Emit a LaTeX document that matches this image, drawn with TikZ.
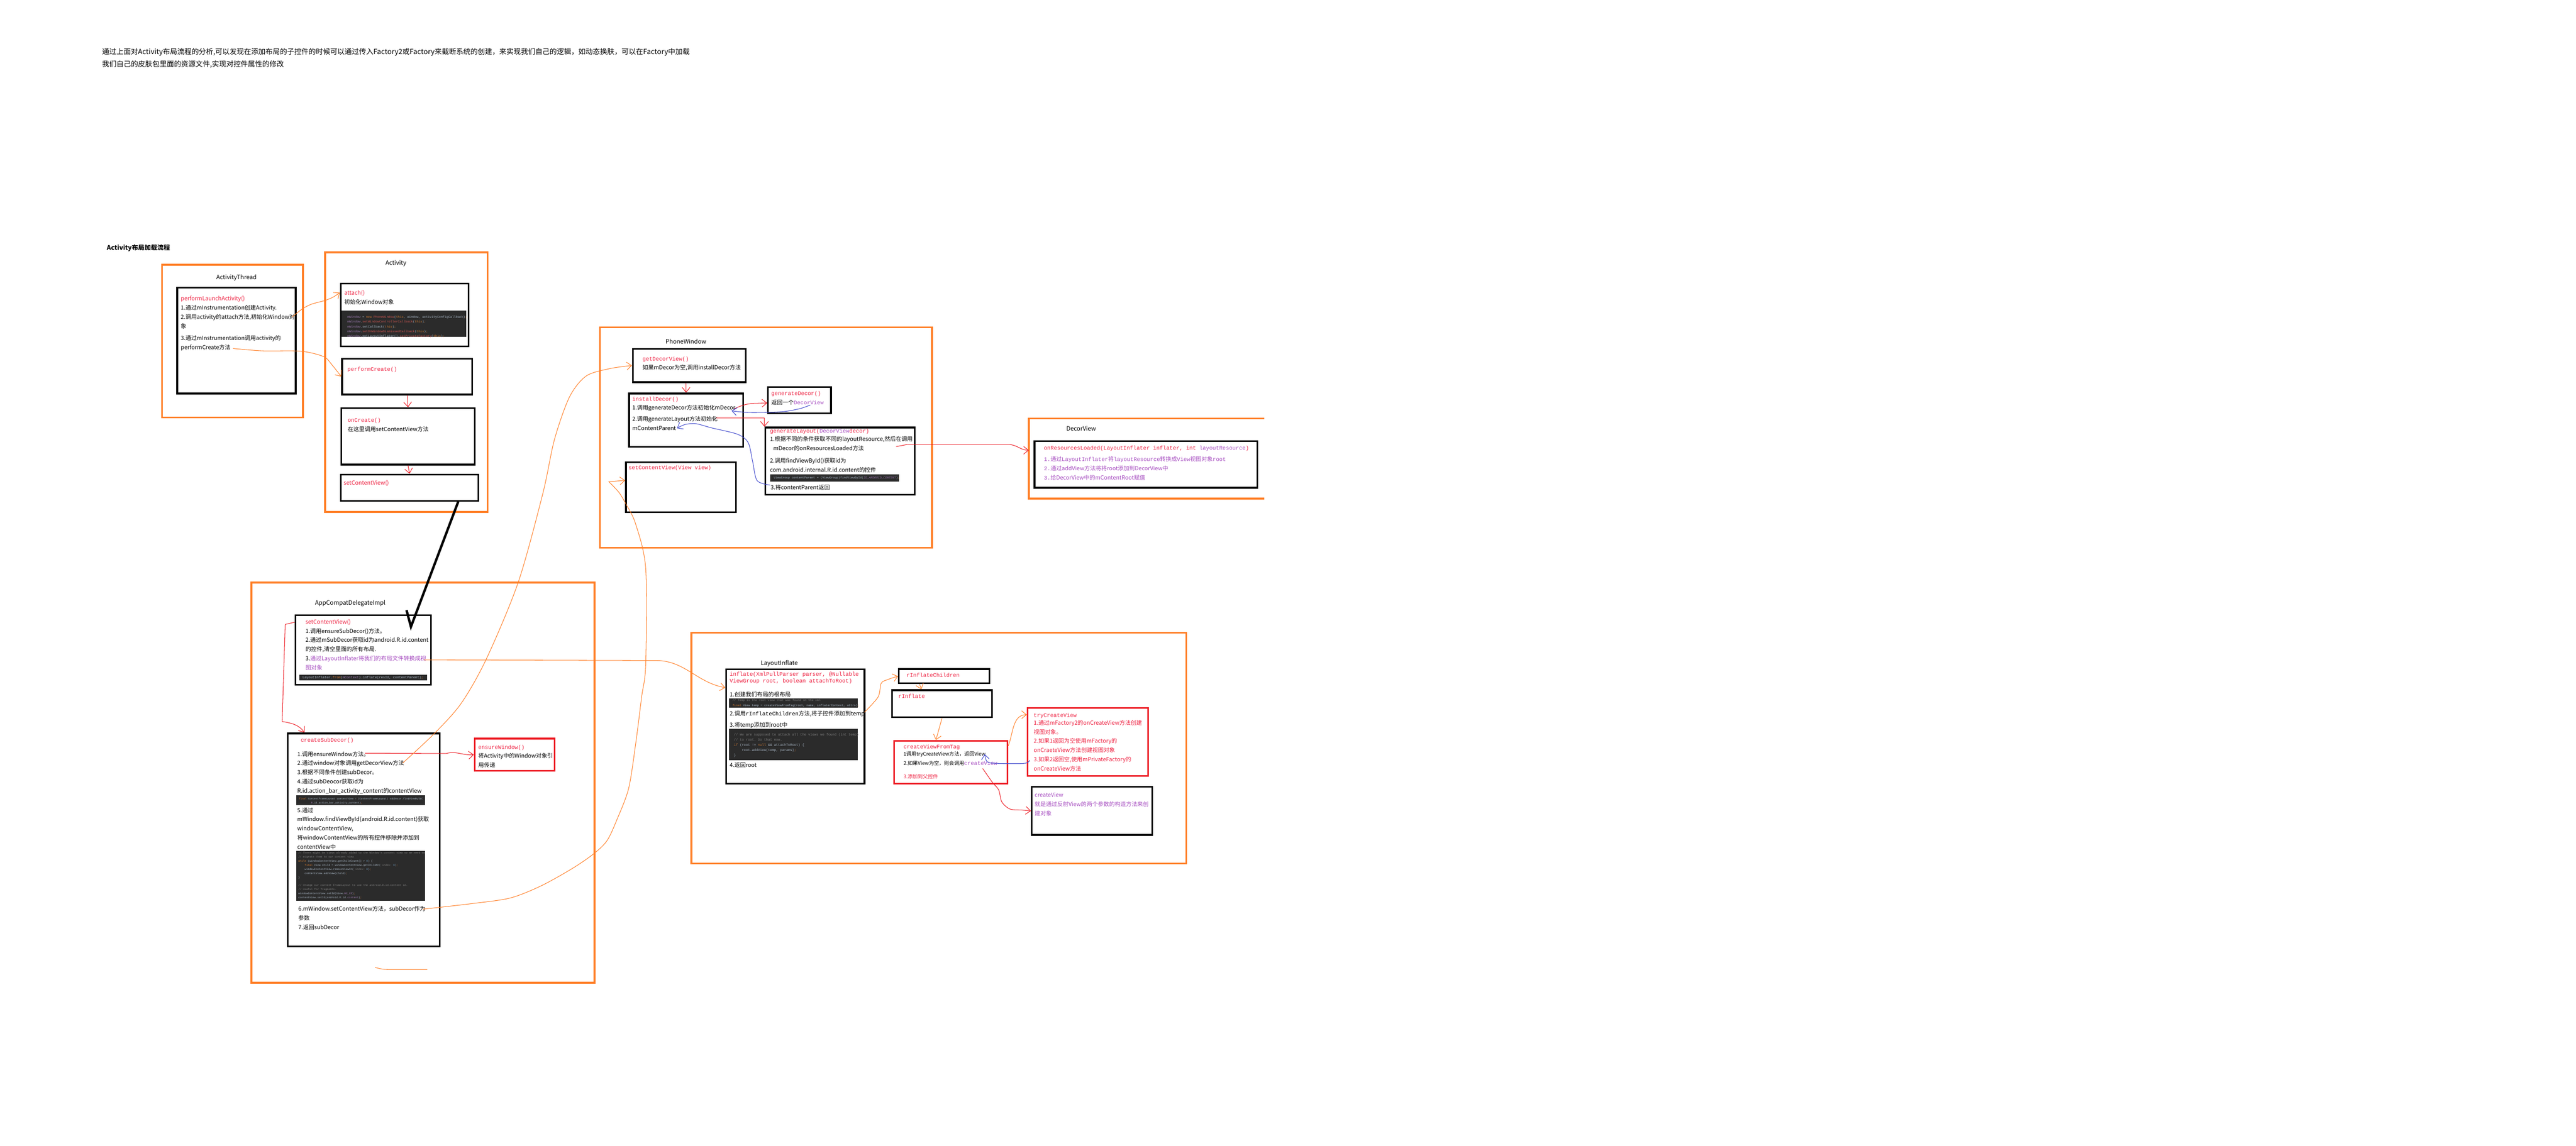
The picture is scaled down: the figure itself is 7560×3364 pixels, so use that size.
\documentclass[tikz,border=0pt]{standalone}
\usepackage{fontspec}
\setmainfont{Noto Sans CJK SC}
\setmonofont{Liberation Mono}
\usepackage{tikz}
\usetikzlibrary{positioning}
\usetikzlibrary{fit}
\usetikzlibrary{arrows.meta}
\definecolor{porange}{HTML}{FF7F27}
\definecolor{pred}{HTML}{ED1C24}
\definecolor{pblue}{HTML}{3F48CC}
\definecolor{tred}{HTML}{EE2040}
\definecolor{tpur}{HTML}{A64CC0}
\definecolor{codebg}{HTML}{2B2B2B}
\definecolor{ctext}{HTML}{A9B7C6}
\definecolor{ckw}{HTML}{CC7832}
\definecolor{cfld}{HTML}{9876AA}
\definecolor{cmth}{HTML}{C75450}
\definecolor{ccom}{HTML}{808080}
\definecolor{cnum}{HTML}{6897BB}
\newcommand{\rd}[1]{{\color{tred}#1}}
\newcommand{\pp}[1]{{\color{tpur}#1}}
\newcommand{\mono}[1]{{\fontsize{4.6}{7.7}\selectfont\ttfamily #1}}
\newcommand{\kw}[1]{{\color{ckw}#1}}
\newcommand{\fld}[1]{{\color{cfld}#1}}
\newcommand{\mth}[1]{{\color{cmth}#1}}
\newcommand{\cmt}[1]{{\color{ccom}#1}}
\newcommand{\num}[1]{{\color{cnum}#1}}
\tikzstyle{orframe} = [draw=porange,line width=1.4pt,inner sep=0pt]
\tikzstyle{blk} = [draw=black,line width=1.4pt,inner sep=0pt]
\tikzstyle{redbox} = [draw=pred,line width=1.4pt,inner sep=0pt]
\tikzstyle{codebox} = [fill=codebg,inner sep=0pt]
\tikzstyle{lbl} = [inner sep=0pt,font=\fontsize{5}{6}\selectfont]
\tikzstyle{txt} = [anchor=north west,inner sep=0pt,align=left,font=\fontsize{4.7}{7.7}\selectfont]
\tikzstyle{ctxt} = [anchor=north west,inner sep=0pt,align=left,text=ctext,font=\fontsize{2.6}{4.05}\selectfont\ttfamily]
\tikzstyle{oline} = [draw=porange,line width=0.45pt]
\tikzstyle{rline} = [draw=pred,line width=0.45pt]
\tikzstyle{bline} = [draw=pblue,line width=0.45pt]
\tikzset{>={Straight Barb[length=4pt,width=6.5pt]}}

\begin{document}
\begin{tikzpicture}[x=0.01cm,y=-0.01cm]
  \fill[white] (0,0) rectangle (7560,3364);
  \useasboundingbox (0,0) rectangle (7560,3364);

  \node[txt,font=\fontsize{6}{10.2}\selectfont] (intro) at (299,141) {通过上面对Activity布局流程的分析,可以发现在添加布局的子控件的时候可以通过传入Factory2或Factory来截断系统的创建，来实现我们自己的逻辑，如动态换肤，可以在Factory中加载\\ 我们自己的皮肤包里面的资源文件,实现对控件属性的修改};
  \node[anchor=west,inner sep=0pt,font=\fontsize{5.3}{6}\selectfont\bfseries] (ttl) at (313,728) {Activity布局加载流程};

  \node[orframe,fit={(476,777) (889,1226)}] (fthr) {};
  \node[blk,fit={(520,845) (868,1155)}] (thr) {};
  \node[lbl,above=0.17cm of thr.north] (lthr) {ActivityThread};
  \node[txt] (thrt) at (530,868) {\rd{performLaunchActivity()}\\ 1.通过mInstrumentation创建Activity.\\ 2.调用activity的attach方法,初始化Window对\\ 象\\[2.3pt] 3.通过mInstrumentation调用activity的\\ performCreate方法};

  \node[orframe,fit={(954,741) (1431,1503)}] (fact) {};
  \node[lbl] (lact) at (1162,773) {Activity};
  \node[blk,fit={(1000,832) (1375,1017)}] (att) {};
  \node[txt] (attt) at (1010,851) {\rd{attach()}\\ 初始化Window对象};
  \node[codebox,fit={(1002,912) (1368,989)}] (attc) {};
  \begin{scope}
    \clip (1002,912) rectangle (1368,989);
    \node[ctxt] (attct) at (1019,926) {\fld{mWindow} = \kw{new} \mth{PhoneWindow}(\kw{this}, window, activityConfigCallback)\kw{;}\\ \fld{mWindow}.\mth{setWindowControllerCallback}(\kw{this})\kw{;}\\ \fld{mWindow}.setCallback(\kw{this})\kw{;}\\ \fld{mWindow}.\mth{setOnWindowDismissedCallback}(\kw{this})\kw{;}\\ \fld{mWindow}.getLayoutInflater().\mth{setPrivateFactory}(\kw{this})\kw{;}};
  \end{scope}
  \node[blk,fit={(1004,1053) (1386,1158)}] (pcr) {};
  \node[txt,anchor=west] (pcrt) at (1019,1085) {\rd{\mono{performCreate()}}};
  \node[blk,fit={(1002,1198) (1393,1364)}] (ocr) {};
  \node[txt] (ocrt) at (1020,1227) {\rd{\mono{onCreate()}}\\ 在这里调用setContentView方法};
  \node[blk,fit={(1000,1393) (1404,1470)}] (ascv) {};
  \node[txt,anchor=west] (ascvt) at (1008,1419) {\rd{setContentView()}};

  \node[orframe,fit={(738,1710) (1745,2885)}] (fdel) {};
  \node[lbl] (ldel) at (1028,1771) {AppCompatDelegateImpl};
  \node[blk,fit={(867,1806) (1265,2010)}] (dscv) {};
  \node[txt] (dscvt) at (896,1817) {\rd{setContentView()}\\ 1.调用ensureSubDecor()方法。\\ 2.通过mSubDecor获取id为android.R.id.content\\ 的控件,清空里面的所有布局.\\ 3.\pp{通过LayoutInflater将我们的布局文件转换成视}\\ \pp{图对象}};
  \node[codebox,fit={(878,1980) (1254,1998)}] (dscvc) {};
  \node[ctxt,anchor=west,font=\fontsize{2.8}{4}\selectfont\ttfamily] (dscvct) at (887,1989) {LayoutInflater.\kw{from}(\fld{mContext}).inflate(resId, contentParent)\kw{;}};
  \node[blk,fit={(845,2153) (1291,2778)}] (csub) {};
  \node[txt,anchor=west] (csubt) at (882,2174) {\rd{\mono{createSubDecor()}}};
  \node[txt] (csuba) at (872,2205) {1.调用ensureWindow方法。\\ 2.通过window对象调用getDecorView方法\\ 3.根据不同条件创建subDecor。\\ 4.通过subDeocor获取id为\\ R.id.action\_bar\_activity\_content的contentView};
  \node[codebox,fit={(869,2334) (1247,2363)}] (csubc1) {};
  \node[ctxt,font=\fontsize{2.1}{3.4}\selectfont\ttfamily] (csubc1t) at (877,2341) {\kw{final} ContentFrameLayout contentView = (ContentFrameLayout) subDecor.findViewById(\\ \hspace*{4.8em}\fld{R}.id.action\_bar\_activity\_content)\kw{;}};
  \node[txt] (csubb) at (872,2370) {5.通过\\ mWindow.findViewById(android.R.id.content)获取\\ windowContentView,\\ 将windowContentView的所有控件移除并添加到\\ contentView中};
  \node[codebox,fit={(869,2498) (1247,2644)}] (csubc2) {};
  \node[ctxt,font=\fontsize{2.2}{3.4}\selectfont\ttfamily] (csubc2t) at (875,2500) {\cmt{// There might be Views already added to the Window's content view so we need to}\\ \cmt{// migrate them to our content view}\\ \kw{while} (windowContentView.getChildCount() > \num{0}) \{\\ \hspace*{2.4em}\kw{final} View child = windowContentView.getChildAt( \cmt{index:} \num{0})\kw{;}\\ \hspace*{2.4em}windowContentView.removeViewAt( \cmt{index:} \num{0})\kw{;}\\ \hspace*{2.4em}contentView.addView(child)\kw{;}\\ \}\\[3.4pt] \cmt{// Change our content FrameLayout to use the android.R.id.content id.}\\ \cmt{// Useful for fragments.}\\ windowContentView.setId(View.\fld{\textit{NO\_ID}})\kw{;}\\ contentView.setId(android.R.id.\fld{content})\kw{;}};
  \node[txt] (csubc) at (875,2660) {6.mWindow.setContentView方法，subDecor作为\\ 参数\\ 7.返回subDecor};
  \node[redbox,fit={(1393,2168) (1628,2263)}] (ensw) {};
  \node[txt] (enswt) at (1403,2187) {\rd{\mono{ensureWindow()}}\\[-0.6pt] 将Activity中的Window对象引\\ 用传递};

  \node[orframe,fit={(1761,961) (2735,1608)}] (fpw) {};
  \node[lbl] (lpw) at (2013,1003) {PhoneWindow};
  \node[blk,fit={(1857,1024) (2189,1122)}] (getdv) {};
  \node[txt] (getdvt) at (1885,1046) {\rd{\mono{getDecorView()}}\\ 如果mDecor为空,调用installDecor方法};
  \node[blk,fit={(1846,1155) (2181,1312)}] (instd) {};
  \node[txt] (instdt) at (1855,1164) {\rd{\mono{installDecor()}}\\ 1.调用generateDecor方法初始化mDecor\\[1.4pt] 2.调用generateLayout方法初始化\\ mContentParent};
  \node[blk,fit={(2254,1136) (2439,1213)}] (gend) {};
  \node[txt] (gendt) at (2263,1148) {\rd{\mono{generateDecor()}}\\ 返回一个\pp{\mono{DecorView}}};
  \node[blk,fit={(2246,1255) (2684,1452)}] (genl) {};
  \node[txt] (genlt) at (2259,1259) {\mono{\rd{generateLayout(}\pp{DecorView}\rd{ decor)}}\\[-1.1pt] 1.根据不同的条件获取不同的layoutResource,然后在调用\\ \hspace*{0.6em}mDecor的onResourcesLoaded方法\\[2.9pt] 2.调用findViewById()获取id为\\ com.android.internal.R.id.content的控件};
  \node[codebox,fit={(2260,1392) (2638,1414)}] (genlc) {};
  \node[ctxt,anchor=west,font=\fontsize{2.5}{4}\selectfont\ttfamily] (genlct) at (2270,1403) {ViewGroup contentParent = (ViewGroup)findViewById(\fld{\textit{ID\_ANDROID\_CONTENT}})\kw{;}};
  \node[txt] (genlt2) at (2261,1422) {3.将contentParent返回};
  \node[blk,fit={(1837,1357) (2160,1504)}] (pscv) {};
  \node[txt,anchor=west] (pscvt) at (1844,1374) {\rd{\mono{setContentView(View view)}}};

  \node[fit={(3020,1229) (3710,1463)},inner sep=0pt] (fdv) {};
  \draw[draw=porange,line width=1.4pt] (fdv.north east) -| (fdv.south west) -- (fdv.south east);
  \node[lbl] (ldv) at (3173,1258) {DecorView};
  \node[blk,fit={(3036,1295) (3690,1432)}] (onres) {};
  \node[txt] (onrest) at (3063,1309) {\mono{\rd{onResourcesLoaded(LayoutInflater inflater, int }\pp{layoutResource}\rd{)}}\\[1.7pt] \pp{\mono{1.}通过\mono{LayoutInflater}将\mono{layoutResource}转换成\mono{View}视图对象\mono{root}}\\ \pp{\mono{2.}通过addView方法将将root添加到DecorView中}\\ \pp{\mono{3.}给DecorView中的mContentRoot赋值}};

  \node[orframe,fit={(2029,1857) (3481,2535)}] (finf) {};
  \node[lbl] (linf) at (2287,1947) {LayoutInflate};
  \node[blk,fit={(2131,1965) (2537,2300)}] (infl) {};
  \node[txt] (inflt) at (2141,1972) {\rd{\mono{inflate(XmlPullParser parser, @Nullable}}\\[-2.3pt] \rd{\mono{ViewGroup root, boolean attachToRoot)}}};
  \node[txt] (infla) at (2141,2030) {1.创建我们布局的根布局};
  \node[codebox,fit={(2140,2050) (2518,2078)}] (inflc1) {};
  \node[ctxt,font=\fontsize{2.45}{4}\selectfont\ttfamily] (inflc1t) at (2149,2052) {\cmt{// Temp is the root view that was found in the xml}\\ \kw{final} View temp = createViewFromTag(root, name, inflaterContext, attrs)\kw{;}};
  \node[txt] (inflb) at (2141,2086) {2.调用\mono{rInflateChildren}方法,将子控件添加到temp\\[1.7pt] 3.将temp添加到root中};
  \node[codebox,fit={(2140,2139) (2518,2231)}] (inflc2) {};
  \node[ctxt,font=\fontsize{2.8}{4.3}\selectfont\ttfamily] (inflc2t) at (2153,2152) {\cmt{// We are supposed to attach all the views we found (int temp)}\\ \cmt{// to root. Do that now.}\\ \kw{if} (root != \kw{null} \&\& attachToRoot) \{\\ \hspace*{2.4em}root.addView(temp, params)\kw{;}\\ \}};
  \node[txt] (inflc) at (2141,2238) {4.返回root};
  \node[blk,fit={(2638,1964) (2904,2006)}] (rich) {};
  \node[txt,anchor=west] (richt) at (2660,1982) {\rd{\mono{rInflateChildren}}};
  \node[blk,fit={(2618,2026) (2911,2106)}] (rinf) {};
  \node[txt,anchor=west] (rinft) at (2636,2043) {\rd{\mono{rInflate}}};
  \node[redbox,fit={(2624,2175) (2957,2300)}] (cvft) {};
  \node[txt,font=\fontsize{4.2}{7.7}\selectfont] (cvftt) at (2651,2185) {\rd{\mono{createViewFromTag}}\\[-1.4pt] 1调用tryCreateView方法，返回View\\ 2.如果View为空，则会调用\pp{\mono{createView}}\\[3.1pt] \rd{3.添加到父控件}};
  \node[redbox,fit={(3016,2078) (3370,2278)}] (tcv) {};
  \node[txt] (tcvt) at (3033,2093) {\rd{\mono{tryCreateView}}\\[-1.4pt] \rd{1.通过mFactory2的onCreateView方法创建}\\ \rd{视图对象。}\\ \rd{2.如果1返回为空使用mFactory的}\\ \rd{onCraeteView方法创建视图对象}\\ \rd{3.如果2返回空,使用mPrivateFactory的}\\ \rd{onCreateView方法}};
  \node[blk,fit={(3028,2310) (3381,2451)}] (cview) {};
  \node[txt] (cviewt) at (3036,2326) {\pp{createView}\\[0.3pt] \pp{就是通过反射View的两个参数的构造方法来创}\\ \pp{建对象}};

  \coordinate (a2) at (858,930);
  \coordinate (a3) at (684,1023);
  \draw[oline,->] plot[smooth] coordinates {(a2) (887,907) (914,893) (954,882) (978,872) (att.161)};
  \draw[oline,->] plot[smooth] coordinates {(a3) (771,1030) (883,1031) (950,1047) (975,1072) (pcr.west)};
  \draw[rline,->] (pcr.south) -- (ocr.north);
  \draw[rline,->] (ocr.south) -- (ascv.north);
  \coordinate (tip) at (1206,1840);
  \draw[line width=2pt] (ascv.-16.7) -- (tip) -- ++(-13,-49);

  \coordinate (e1) at (1071,2211);
  \coordinate (c2) at (1182,2240);
  \coordinate (c6) at (1241,2669);
  \coordinate (d3) at (1244,1937);
  \draw[rline,->] (dscv.158.8) -- (837,1833) -- (828,2118) to[out=-10,in=125] (csub.119.8);
  \draw[rline,->] (e1) -- (1309,2212) to[out=15,in=185] (ensw.west);
  \draw[oline,->] (d3) -- (1925,1939) to[out=0,in=170] (infl.151.2);
  \draw[oline,->] plot[smooth] coordinates {(c2) (1276,2152) (1354,2064) (1428,1933) (1521,1709) (1593,1449) (1627,1291) (1671,1166) (1720,1104) (1790,1082) (getdv.west)};
  \draw[oline,->] plot[smooth] coordinates {(c6) (1390,2652) (1498,2636) (1589,2600) (1682,2548) (1744,2505) (1782,2467) (1811,2405) (1845,2314) (1866,2180) (1883,2046) (1895,1950) (1895,1669) (1865,1537) (1836,1478) (1816,1445) (1787,1414)} -- (pscv.173.5);
  \draw[oline] (1101,2840) to[out=-15,in=180] (1140,2846) -- (1254,2846);

  \coordinate (i1) at (2155,1200);
  \coordinate (i2) at (2101,1227);
  \coordinate (g1) at (2378,1189);
  \coordinate (g2) at (2147,1206);
  \coordinate (g3) at (2260,1424);
  \coordinate (g4) at (1987,1257);
  \coordinate (g5) at (2630,1311);
  \draw[rline,->] (instd.north |- getdv.south) -- (instd.north);
  \draw[rline,->] (i1) to[out=25,in=180] (2222,1184) -- (gend.185);
  \draw[rline,->] (i2) -| (genl.north west);
  \draw[bline,->] plot[smooth] coordinates {(g1) (2346,1200) (2292,1209) (2200,1211) (g2)};
  \draw[bline,->] plot[smooth] coordinates {(g3) (2222,1411) (2209,1356) (2196,1300) (2165,1275) (2088,1256) (2043,1244) (2011,1246) (g4)};
  \draw[rline,->] (g5) -- (2662,1305) -- (2960,1305) to[out=0,in=180] (fdv.176.2);

  \coordinate (f2) at (2537,2091);
  \coordinate (t3) at (3022,2232);
  \coordinate (tv) at (2890,2214);
  \coordinate (v2) at (2884,2256);
  \draw[oline,->] plot[smooth] coordinates {(f2) (2577,2046) (2586,2006) (2605,1995) (rich.west)};
  \draw[oline,->] (rich.198.7) -- (rinf.145.2);
  \draw[oline,->] (rinf.south) -- (cvft.124.8);
  \draw[oline,->] (cvft.16.9) to[out=70,in=180] (tcv.156.8);
  \draw[bline,->] plot[smooth] coordinates {(t3) (3006,2241) (2925,2241) (2897,2236) (tv)};
  \draw[rline,->] plot[smooth] coordinates {(v2) (2912,2296) (2931,2319) (2940,2354) (2964,2375) (3000,2378) (cview.west)};
\end{tikzpicture}
\end{document}
